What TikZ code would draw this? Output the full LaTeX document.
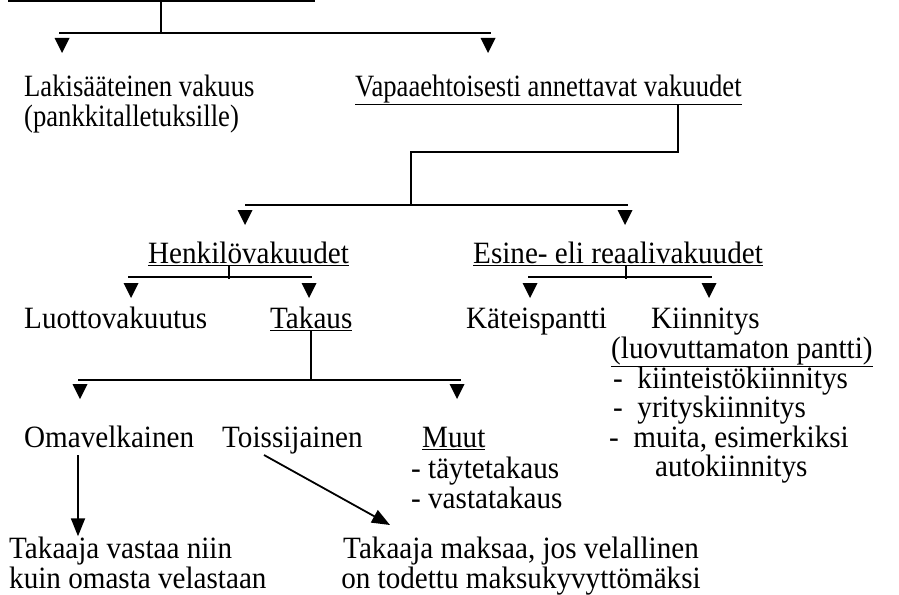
\documentclass[tikz,border=0pt]{standalone}
\usepackage{fontspec}
\setmainfont{Liberation Serif}[FakeStretch=0.94]
\newfontfamily\topfont{Liberation Serif}[FakeStretch=0.86]
\usetikzlibrary{arrows.meta}

\tikzset{
  lbl/.style={anchor=base west, inner sep=0pt, font=\fontsize{31}{30}\selectfont},
  lbltop/.style={lbl, font=\fontsize{31}{30}\topfont},
  lblc/.style={lbl, anchor=base},
  bar/.style={line width=2pt},
  stem/.style={line width=1.3pt},
  arr/.style={line width=1.8pt, -{Triangle[length=18pt,width=14pt]}},
  tip/.pic={\fill (-7.5,0) -- (7.5,0) -- (0,15) -- cycle;}
}

\begin{document}
\begin{tikzpicture}[x=1pt, y=-1pt]
  \useasboundingbox (0,0) rectangle (899,594);

  % --- 1. tekstit ---
  \node[lbltop] (lakis)  at (24,96)  {Lakisääteinen vakuus};
  \node[lbltop] (lakisb) at (24,126) {(pankkitalletuksille)};
  \node[lbltop] (vapaa)  at (355,96) {\underline{Vapaaehtoisesti annettavat vakuudet}};

  \node[lbl] (henk)  at (148,263) {\underline{Henkilövakuudet}};
  \node[lbl] (esine) at (473,263) {\underline{Esine- eli reaalivakuudet}};

  \node[lbl] (luotto) at (24,328)  {Luottovakuutus};
  \node[lbl] (takaus) at (270,328) {\underline{Takaus}};
  \node[lbl] (kateis) at (466,328) {Käteispantti};
  \node[lbl] (kiinn)  at (651,328) {Kiinnitys};
  \node[lbl] (luov)   at (611,358) {\underline{(luovuttamaton pantti)}};
  \node[lbl] (kiint)  at (613,388) {-\ \ kiinteistökiinnitys};
  \node[lbl] (yrit)   at (613,417) {-\ \ yrityskiinnitys};
  \node[lbl] (muita)  at (609,447) {-\ \ muita, esimerkiksi};
  \node[lbl] (auto)   at (655,476) {autokiinnitys};

  \node[lbl] (omav)  at (24,447)  {Omavelkainen};
  \node[lbl] (toiss) at (222,447) {Toissijainen};
  \node[lbl] (muut)  at (422,447) {\underline{Muut}};
  \node[lbl] (tayte) at (411,478) {- täytetakaus};
  \node[lbl] (vasta) at (411,508) {- vastatakaus};

  \node[lbl]  (vastaa)  at (9,558)   {Takaaja vastaa niin};
  \node[lbl]  (vastaab) at (9,588)   {kuin omasta velastaan};
  \node[lblc] (maksaa)  at (521,558) {Takaaja maksaa, jos velallinen};
  \node[lblc] (maksaab) at (521,588) {on todettu maksukyvyttömäksi};

  % --- 2. ylin haara ---
  \coordinate (j1) at (161,33);
  \draw[line width=3pt] (8,1) -- (315,1);
  \draw[stem] (161,1) -- (j1);
  \draw[bar] (59,33) -- (491,33);
  \pic at (62,38) {tip};
  \pic at (488,38) {tip};

  % --- 3. vapaaehtoiset vakuudet ---
  \coordinate (j2) at (678,152);
  \coordinate (j3) at (411,205);
  \draw[stem] (vapaa.south -| j2) -- (j2) -| (j3);
  \draw[bar] (245,205) -- (628,205);
  \pic at (245,210) {tip};
  \pic at (625,210) {tip};

  % --- 4. henkilö- ja esinevakuudet ---
  \coordinate (j4) at (229,277);
  \coordinate (j5) at (626,277);
  \draw[stem] (henk.south -| j4) -- ++(0,13);
  \draw[stem] (esine.south -| j5) -- ++(0,13);
  \draw[bar] (128,277) -- (312,277);
  \draw[bar] (528,277) -- (712,277);
  \pic at (131,283) {tip};
  \pic at (309,283) {tip};
  \pic at (530,283) {tip};
  \pic at (709,283) {tip};

  % --- 5. takaus ---
  \coordinate (j6) at (311,380);
  \draw[stem] (takaus.south -| j6) -- (j6);
  \draw[bar] (78,380) -- (461,380);
  \pic at (80,384) {tip};
  \pic at (457,384) {tip};

  % --- 6. seuraukset ---
  \coordinate (a1) at (78,455);
  \coordinate (a2) at (264,455);
  \draw[arr] (a1) -- (a1 |- vastaa.north);
  \draw[arr] (a2) -- (390,525);

\end{tikzpicture}
\end{document}
